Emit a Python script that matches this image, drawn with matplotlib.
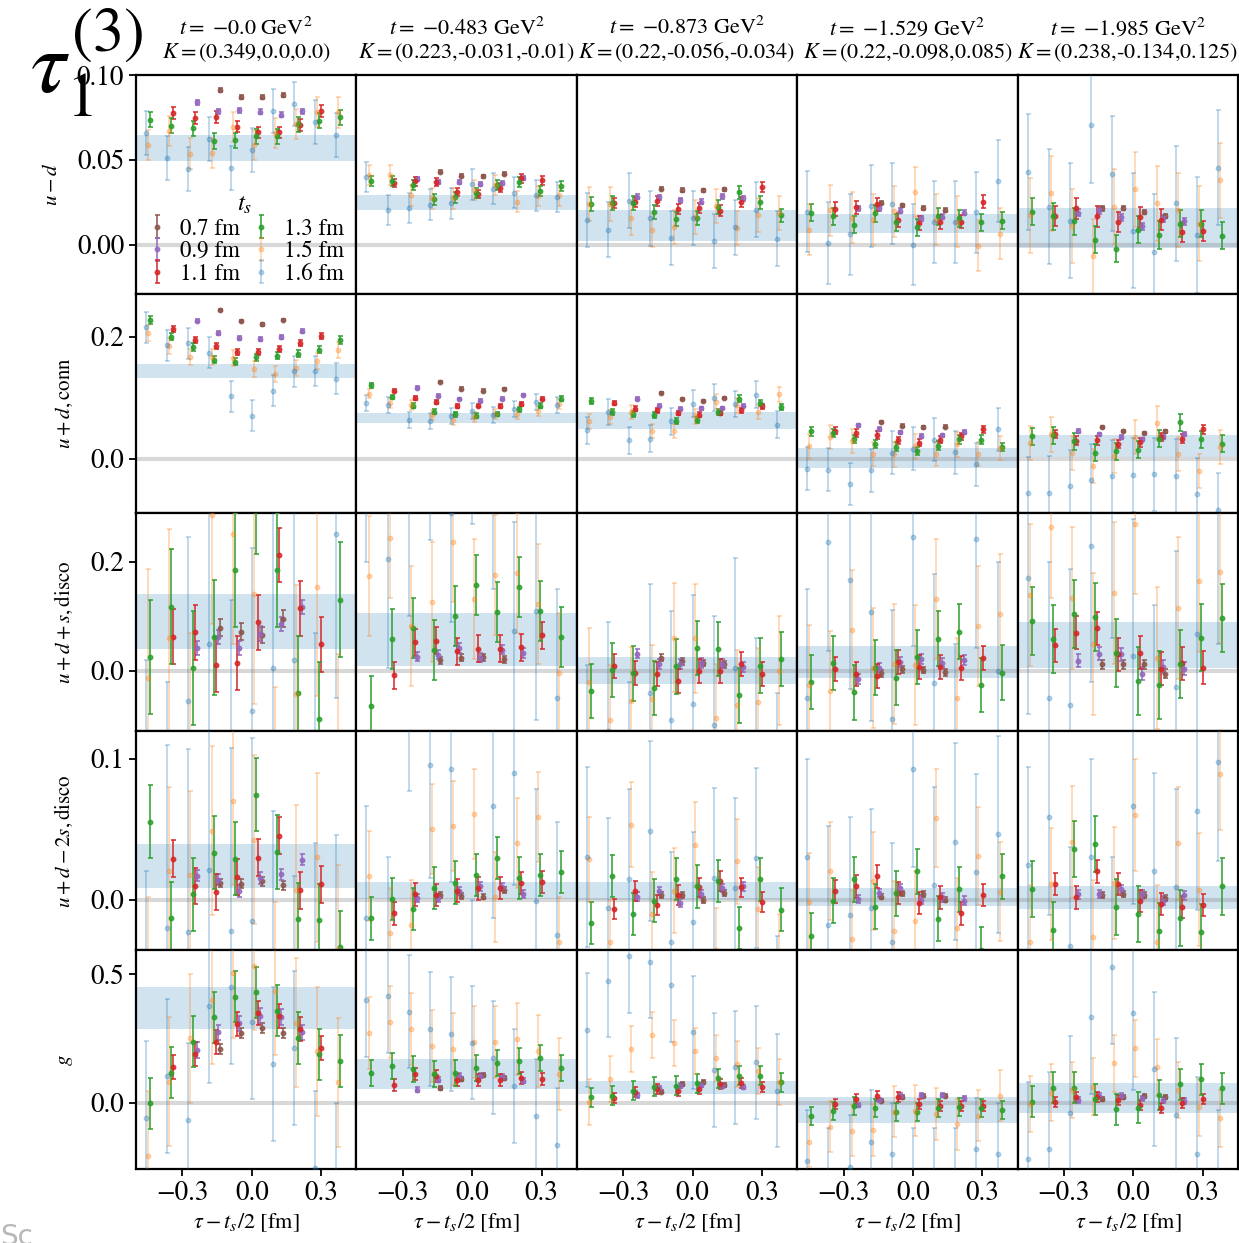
import numpy as np
import matplotlib
matplotlib.use("Agg")
import matplotlib.pyplot as plt

plt.rcParams.update({
    "font.family": "STIXGeneral",
    "mathtext.fontset": "stix",
    "axes.linewidth": 1.6,
})

# ---------------------------------------------------------------- labels
TS_LABELS = ["0.7 fm", "0.9 fm", "1.1 fm", "1.3 fm", "1.5 fm", "1.6 fm"]
COLORS = ["tab:brown", "tab:purple", "tab:red", "tab:green", "tab:orange", "tab:blue"]
ALPHAS = [0.85, 0.85, 0.85, 0.85, 0.3, 0.3]
T_VALUES = ["0.0", "0.483", "0.873", "1.529", "1.985"]
K_VALUES = ["(0.349,0.0,0.0)", "(0.223,-0.031,-0.01)", "(0.22,-0.056,-0.034)",
            "(0.22,-0.098,0.085)", "(0.238,-0.134,0.125)"]
ROW_LABELS = [r"$u-d$", r"$u+d,\mathrm{conn}$", r"$u+d+s,\mathrm{disco}$",
              r"$u+d-2s,\mathrm{disco}$", r"$g$"]
ROW_YTICKS = [[0.0, 0.05, 0.10], [0.0, 0.2], [0.0, 0.2], [0.0, 0.1], [0.0, 0.5]]
ROW_YLIMS = [(-0.029, 0.100), (-0.088, 0.270), (-0.111, 0.290), (-0.036, 0.1195), (-0.258, 0.593)]

A_LAT = 0.0913                      # lattice spacing [fm]
SHIFT = [0.045, 0.036, 0.027, 0.018, 0.009, 0.0]   # small offsets to separate t_s series

# ---------------------------------------------------------------- u - d
ud_mean = [
    [[0.0913, 0.0868, 0.0872, 0.088],
     [0.084, 0.0787, 0.0793, 0.0783, 0.0765, 0.0787],
     [0.0777, 0.0744, 0.075, 0.0696, 0.0661, 0.0661, 0.0706, 0.0789],
     [0.0736, 0.0702, 0.0685, 0.0611, 0.0615, 0.0639, 0.0639, 0.071, 0.073, 0.075],
     [0.0588, 0.067, 0.0537, 0.054, 0.0694, 0.0588, 0.0657, 0.071, 0.0783, 0.078],
     [0.066, 0.0513, 0.0448, 0.0621, 0.0454, 0.0556, 0.0789, 0.0828, 0.0724, 0.0645]],
    [[0.043, 0.0407, 0.0402, 0.0418],
     [0.0387, 0.0367, 0.0371, 0.0355, 0.0365, 0.0395],
     [0.0363, 0.0373, 0.0369, 0.031, 0.0298, 0.0336, 0.0391, 0.0379],
     [0.0373, 0.0373, 0.0353, 0.0266, 0.0278, 0.0302, 0.0351, 0.0369, 0.0318, 0.0345],
     [0.041, 0.041, 0.029, 0.0272, 0.0272, 0.0321, 0.0353, 0.0254, 0.0286, 0.029],
     [0.04, 0.0203, 0.0215, 0.0235, 0.0243, 0.0355, 0.033, 0.0306, 0.029, 0.0282]],
    [[0.033, 0.0322, 0.032, 0.0325],
     [0.0282, 0.0278, 0.0262, 0.0254, 0.0286, 0.0272],
     [0.0245, 0.0253, 0.0256, 0.0211, 0.0215, 0.0201, 0.0253, 0.0339],
     [0.0239, 0.0245, 0.0247, 0.0191, 0.0152, 0.0158, 0.0223, 0.0308, 0.0249, 0.0172],
     [0.0242, 0.024, 0.0158, 0.0085, 0.0105, 0.0164, 0.0227, 0.0097, 0.0172, 0.0188],
     [0.0144, 0.0089, 0.026, 0.0154, 0.004, 0.0158, 0.002, 0.0101, 0.0207, 0.0036]],
    [[0.0247, 0.0231, 0.0215, 0.0205],
     [0.0213, 0.0213, 0.0201, 0.0154, 0.0164, 0.0188],
     [0.0211, 0.022, 0.0237, 0.0144, 0.0129, 0.0133, 0.0135, 0.0253],
     [0.0188, 0.0166, 0.0118, 0.0184, 0.0131, 0.0103, 0.0166, 0.0154, 0.0133, 0.0141],
     [0.0089, 0.0203, 0.0158, 0.0148, 0.0197, 0.031, 0.0148, 0.0135, -0.0006, 0.0065],
     [0.0195, 0.001, 0.006, 0.0227, 0.0241, -0.0001, 0.0133, 0.0133, 0.0191, 0.0374]],
    [[0.0213, 0.0215, 0.0191, 0.0168],
     [0.0188, 0.0203, 0.0162, 0.0109, 0.0154, 0.0138],
     [0.0168, 0.0213, 0.0166, 0.0133, 0.0162, 0.0148, 0.0073, 0.0079],
     [0.0194, 0.0168, 0.0138, 0.003, -0.0025, 0.0089, 0.0057, 0.0124, 0.0124, 0.0053],
     [0.0172, 0.0302, 0.0109, -0.0069, 0.0223, 0.0325, 0.0243, 0.0203, 0.0124, 0.0379],
     [0.0428, 0.0223, 0.0142, 0.0704, 0.0418, 0.0083, -0.0043, 0.0243, 0.0057, 0.0454]],
]
ud_err = [
    [0.0012, 0.0015, 0.0035, 0.0045, 0.009, 0.013],
    [0.0008, 0.0012, 0.0025, 0.003, 0.006, 0.009],
    [0.001, 0.0015, 0.003, 0.004, 0.01, 0.016],
    [0.001, 0.0015, 0.004, 0.005, 0.015, 0.024],
    [0.0012, 0.002, 0.006, 0.008, 0.022, 0.034],
]
ud_band = [(0.0493, 0.0647), (0.0203, 0.029), (0.002, 0.0203), (0.007, 0.0178), (-0.002, 0.0217)]

# ---------------------------------------------------------------- u + d, conn
conn_mean = [
    [[0.2437, 0.2256, 0.2201, 0.2272],
     [0.2261, 0.2064, 0.1977, 0.196, 0.1993, 0.2087],
     [0.2129, 0.1944, 0.185, 0.1742, 0.1747, 0.1791, 0.19, 0.2005],
     [0.2272, 0.1998, 0.1829, 0.162, 0.1587, 0.1659, 0.1686, 0.1719, 0.1784, 0.1944],
     [0.2054, 0.1845, 0.1659, 0.1659, 0.1643, 0.1467, 0.139, 0.1484, 0.1599, 0.178],
     [0.2152, 0.1857, 0.1889, 0.1735, 0.1024, 0.0706, 0.1117, 0.1429, 0.1434, 0.1314]],
    [[0.1259, 0.115, 0.1117, 0.1144],
     [0.1166, 0.1035, 0.0979, 0.0953, 0.0986, 0.104],
     [0.1117, 0.0996, 0.0925, 0.0859, 0.0871, 0.0859, 0.0897, 0.0986],
     [0.1204, 0.1012, 0.0871, 0.0772, 0.0728, 0.0706, 0.0733, 0.081, 0.0871, 0.0986],
     [0.1068, 0.0914, 0.0876, 0.0716, 0.0641, 0.0683, 0.0739, 0.0739, 0.0782, 0.0897],
     [0.0914, 0.0876, 0.0641, 0.0624, 0.07, 0.0782, 0.0711, 0.0821, 0.093, 0.0887]],
    [[0.1078, 0.0979, 0.0946, 0.0991],
     [0.0986, 0.0871, 0.0822, 0.0826, 0.0831, 0.0871],
     [0.0914, 0.0822, 0.0794, 0.0749, 0.0723, 0.0749, 0.0794, 0.0859],
     [0.0953, 0.0761, 0.0739, 0.0711, 0.0618, 0.0641, 0.0766, 0.0986, 0.0909, 0.0848],
     [0.0613, 0.0683, 0.0766, 0.0453, 0.0453, 0.0695, 0.0936, 0.0876, 0.0766, 0.1056],
     [0.0465, 0.0766, 0.0301, 0.0329, 0.0613, 0.0904, 0.1002, 0.0897, 0.1052, 0.0559]],
    [[0.0601, 0.0542, 0.0514, 0.0526],
     [0.0547, 0.0486, 0.0432, 0.0371, 0.0383, 0.0437],
     [0.046, 0.042, 0.0388, 0.0301, 0.0263, 0.0312, 0.0366, 0.0481],
     [0.0449, 0.042, 0.0322, 0.024, 0.0197, 0.0131, 0.0214, 0.0317, 0.0312, 0.0191],
     [0.0202, 0.0355, 0.0289, 0.0082, 0.0071, 0.0202, 0.0082, 0.0235, 0.0082, 0.0181],
     [-0.0164, -0.0176, -0.0411, -0.0187, 0.0099, 0.0164, 0.0312, 0.0104, -0.0089, 0.0486]],
    [[0.052, 0.0453, 0.042, 0.0449],
     [0.046, 0.0399, 0.0355, 0.0317, 0.0355, 0.0411],
     [0.0404, 0.0296, 0.0301, 0.0246, 0.0268, 0.0355, 0.0329, 0.0481],
     [0.0371, 0.0388, 0.0289, 0.0099, 0.012, 0.0148, 0.0329, 0.0601, 0.0317, 0.0246],
     [0.0257, 0.0399, 0.0093, -0.0122, 0.0049, 0.0355, 0.0585, 0.0082, -0.0197, 0.0191],
     [-0.0565, -0.0559, -0.045, -0.0352, -0.0286, -0.0263, -0.0253, -0.0279, -0.0582, -0.0833]],
]
conn_err = [
    [0.002, 0.003, 0.005, 0.006, 0.013, 0.025],
    [0.002, 0.002, 0.003, 0.004, 0.008, 0.013],
    [0.002, 0.002, 0.004, 0.005, 0.012, 0.022],
    [0.002, 0.003, 0.006, 0.007, 0.02, 0.035],
    [0.002, 0.003, 0.007, 0.014, 0.028, 0.06],
]
conn_band = [(0.1325, 0.155), (0.0585, 0.0744), (0.0486, 0.076), (-0.0148, 0.0181), (0.0027, 0.0383)]

# ---------------------------------------------------------------- u + d + s, disco
uds_mean = [
    [[0.0792, 0.0719, 0.0659, 0.0957],
     [0.0414, 0.0622, 0.0421, 0.0683, 0.086, 0.1171],
     [0.0628, 0.0707, 0.0115, 0.0146, 0.0889, 0.2123, 0.1146, 0.0487],
     [0.0256, 0.1177, 0.0055, 0.0615, 0.1848, 0.32, 0.1848, -0.0415, -0.0879, 0.1305],
     [-0.014, 0.06, -0.13, 0.285, 0.25, 0.14, -0.23, -0.043, 0.154, -0.17],
     [-0.28, -0.32, -0.055, 0.05, -0.17, -0.0745, 0.0048, 0.0207, -0.23, 0.25]],
    [[0.0194, 0.0243, 0.0249, 0.0212],
     [0.0262, 0.0298, 0.0426, 0.0243, 0.039, 0.0322],
     [-0.008, 0.0523, 0.0555, 0.0359, 0.0403, 0.0408, 0.0432, 0.0651],
     [-0.0653, 0.0578, 0.078, 0.0377, 0.0999, 0.1574, 0.108, 0.1537, 0.1103, 0.0622],
     [0.1738, 0.2434, 0.0823, 0.1268, 0.2354, 0.131, 0.175, 0.1799, 0.1219, -0.0031],
     [0.4, 0.205, 0.3, 0.44, 0.29, 0.47, 0.35, 0.0732, 0.1098, -0.0507]],
    [[0.0243, 0.0176, 0.0146, 0.0121],
     [0.0317, 0.0121, 0.0128, 0.0146, 0.0134, 0.0073],
     [0.0092, -0.0031, -0.0055, -0.019, 0.0, 0.0, 0.0134, -0.0062],
     [-0.0373, 0.0018, -0.0044, -0.0311, 0.0084, 0.0421, 0.0403, -0.0452, 0.0097, 0.022],
     [-0.0209, -0.0897, -0.0556, -0.052, 0.0609, 0.0597, -0.0867, -0.0617, -0.058, 0.0],
     [-0.19, -0.11, -0.22, -0.0403, -0.09, -0.061, -0.1, 0.006, -0.14, -0.24]],
    [[-0.0044, 0.0029, 0.0018, -0.0026],
     [-0.0154, 0.006, 0.0165, 0.0212, 0.0152, 0.0201],
     [0.0029, -0.0062, -0.0092, 0.017, 0.0066, 0.0073, 0.006, 0.0243],
     [-0.0201, 0.0146, -0.0397, 0.006, -0.0123, 0.0256, 0.0591, 0.0719, -0.0256, -0.0031],
     [-0.0263, -0.0366, 0.0756, 0.006, 0.0121, 0.011, 0.1323, -0.05, 0.0823, 0.1036],
     [-0.05, 0.236, 0.1665, 0.1072, -0.0878, 0.2458, -0.0227, -0.15, 0.2421, 0.0]],
    [[0.0121, 0.0121, 0.0121, -0.005],
     [0.0183, 0.0317, 0.0304, -0.005, 0.0073, 0.0042],
     [0.0469, 0.0701, 0.078, 0.0304, 0.0335, 0.0037, 0.0139, 0.0055],
     [0.0915, 0.0578, 0.1036, 0.0988, 0.0322, -0.0183, -0.0263, 0.0121, 0.0609, 0.0963],
     [0.139, 0.264, 0.134, 0.0487, 0.142, 0.27, 0.0243, 0.1158, 0.1647, 0.1817],
     [0.17, -0.0507, -0.063, 0.2293, 0.31, 0.0274, -0.13, -0.03, 0.067, 0.3]],
]
uds_err = [
    [0.015, 0.013, 0.05, 0.105, 0.2, 0.3],
    [0.006, 0.009, 0.025, 0.055, 0.11, 0.2],
    [0.006, 0.009, 0.022, 0.05, 0.1, 0.2],
    [0.006, 0.009, 0.022, 0.05, 0.11, 0.2],
    [0.008, 0.012, 0.03, 0.062, 0.13, 0.25],
]
uds_band = [(0.0396, 0.1415), (0.0085, 0.1067), (-0.0245, 0.0262), (-0.0123, 0.0463), (0.006, 0.0902)]

# ---------------------------------------------------------------- u + d - 2s, disco
ud2s_mean = [
    [[0.0116, 0.0114, 0.0129, 0.01],
     [0.0169, 0.014, 0.0061, 0.0154, 0.0179, 0.0283],
     [0.029, 0.0095, 0.0054, 0.0161, 0.0297, 0.0454, 0.0066, 0.0107],
     [0.0554, -0.0134, 0.0036, 0.0333, 0.029, 0.0745, 0.0338, -0.0141, -0.0146, -0.034],
     [-0.058, 0.02, 0.0171, 0.0488, 0.07, 0.0426, -0.062, 0.0071, 0.03, -0.0353],
     [-0.11, -0.0203, -0.023, 0.0211, -0.0226, -0.015, -0.067, -0.113, -0.09, -0.084]],
    [[0.0033, 0.0026, 0.0021, 0.0066],
     [0.0011, 0.0011, 0.0059, 0.0093, 0.0088, 0.004],
     [-0.0098, 0.0036, 0.0031, 0.0064, 0.0079, 0.0081, 0.0119, 0.0124],
     [-0.0134, 0.0004, -0.0069, 0.0083, 0.0121, 0.0176, 0.0297, 0.0154, 0.0176, 0.0197],
     [0.0164, -0.0238, -0.0184, 0.0504, 0.0523, 0.0609, 0.0016, 0.04, 0.0585, -0.03],
     [-0.0134, -0.05, 0.157, 0.0954, 0.0925, -0.08, 0.0668, 0.0902, -0.0012, -0.025]],
    [[0.0033, 0.0033, -0.0005, 0.0047],
     [0.0021, 0.0059, -0.0024, 0.004, 0.0081, 0.0093],
     [-0.0067, 0.0061, -0.0039, 0.0033, 0.0086, 0.0133, 0.0086, -0.0017],
     [-0.0167, 0.0166, -0.0103, -0.0007, 0.0145, 0.0093, 0.0131, -0.0205, 0.0143, -0.0071],
     [0.0286, -0.03, 0.0533, -0.0103, 0.0064, 0.039, -0.036, 0.0271, -0.0067, -0.04],
     [0.0302, -0.006, 0.0147, 0.049, -0.03, -0.0162, 0.0152, 0.0083, 0.0295, -0.09]],
    [[0.0021, 0.0043, 0.0038, 0.0],
     [0.0004, 0.0047, 0.0081, 0.0, 0.0016, -0.0007],
     [0.0059, 0.0093, 0.0164, 0.0047, -0.0026, 0.0016, -0.0098, 0.0033],
     [-0.0257, -0.0007, 0.0143, -0.005, 0.0045, 0.02, -0.0138, 0.0074, -0.0357, 0.0164],
     [-0.0019, 0.0202, -0.0281, 0.0131, -0.0221, -0.015, 0.058, -0.02, 0.0309, 0.0057],
     [0.03, -0.018, -0.0112, -0.006, -0.03, 0.093, 0.01, 0.041, 0.0195, 0.0464]],
    [[0.0033, 0.004, 0.0033, 0.0009],
     [0.0036, 0.004, 0.0076, 0.0036, -0.0007, 0.0029],
     [0.0111, 0.0016, 0.02, 0.0111, -0.001, -0.0031, -0.0053, -0.0039],
     [0.0076, -0.0217, 0.0357, 0.0395, -0.0055, -0.0105, -0.0226, -0.0131, -0.0233, 0.0093],
     [-0.03, 0.0111, 0.0409, -0.0264, 0.0119, 0.06, -0.03, 0.04, 0.0071, 0.0895],
     [0.0243, 0.0588, -0.0328, 0.03, -0.04, 0.0668, 0.02, 0.0088, 0.0628, 0.0975]],
]
ud2s_err = [
    [0.003, 0.004, 0.013, 0.026, 0.06, 0.13],
    [0.002, 0.003, 0.008, 0.015, 0.032, 0.08],
    [0.002, 0.003, 0.007, 0.015, 0.03, 0.064],
    [0.002, 0.003, 0.008, 0.016, 0.035, 0.07],
    [0.002, 0.003, 0.008, 0.02, 0.04, 0.07],
]
ud2s_band = [(0.0083, 0.0397), (0.0004, 0.0124), (-0.0003, 0.0124), (-0.0043, 0.0081), (-0.0067, 0.0095)]

# ---------------------------------------------------------------- g
g_mean = [
    [[0.2075, 0.272, 0.2902, 0.272],
     [0.2047, 0.2735, 0.3085, 0.3368, 0.333, 0.2735],
     [0.1399, 0.1892, 0.2347, 0.3057, 0.3497, 0.3368, 0.2852, 0.2113],
     [-0.0023, 0.1166, 0.237, 0.3318, 0.4118, 0.4289, 0.3574, 0.2514, 0.188, 0.162],
     [-0.206, 0.0816, 0.25, 0.4001, 0.5027, 0.5322, 0.4351, 0.3108, 0.2, 0.0793],
     [-0.06, 0.105, -0.0672, 0.3757, 0.45, 0.315, 0.15, 0.2137, -0.255, -0.3]],
    [[0.0559, 0.0921, 0.1064, 0.0971],
     [0.0505, 0.0894, 0.1049, 0.1049, 0.0998, 0.0855],
     [0.0699, 0.1103, 0.1049, 0.0882, 0.0882, 0.087, 0.0971, 0.0909],
     [0.1142, 0.1437, 0.1309, 0.1103, 0.1142, 0.136, 0.1554, 0.162, 0.1725, 0.136],
     [0.272, 0.3123, 0.2852, 0.2214, 0.2075, 0.2347, 0.2358, 0.2463, 0.2009, 0.1103],
     [0.399, 0.4145, 0.3535, 0.2863, 0.2669, 0.2331, 0.1748, 0.0649, -0.0505, -0.1643]],
    [[0.0427, 0.0727, 0.0804, 0.0688],
     [0.0287, 0.0559, 0.066, 0.0688, 0.0649, 0.061],
     [0.0171, 0.0427, 0.052, 0.0455, 0.0532, 0.0727, 0.0777, 0.0622],
     [0.021, 0.026, 0.0466, 0.0622, 0.0649, 0.0754, 0.0948, 0.1049, 0.1049, 0.0792],
     [0.0039, 0.0909, 0.2075, 0.263, 0.2308, 0.2009, 0.1725, 0.15, 0.1232, 0.0816],
     [0.2824, 0.474, 0.57, 0.5478, 0.4573, 0.2735, 0.127, 0.1375, 0.157, 0.0466]],
    [[0.0078, 0.021, 0.0272, 0.0272],
     [-0.0089, 0.0105, 0.0272, 0.03, 0.03, 0.0171],
     [-0.0062, 0.0144, 0.026, 0.021, -0.005, -0.0128, -0.0128, -0.0128],
     [-0.0505, -0.0311, -0.0117, -0.0194, -0.0373, -0.035, -0.0218, -0.0179, -0.0218, -0.0284],
     [-0.1515, -0.0932, -0.1088, -0.1061, -0.035, -0.0311, -0.0439, -0.0839, -0.05, 0.0272],
     [-0.2277, -0.3, -0.2486, -0.1515, -0.2005, -0.3, -0.3, -0.3, -0.18, -0.2]],
    [[0.0132, 0.0233, 0.026, 0.021],
     [0.0105, 0.0272, 0.0272, 0.0171, 0.0105, 0.0066],
     [0.0016, 0.0233, 0.021, 0.0105, -0.0089, -0.0194, -0.0023, 0.0144],
     [0.0039, 0.0583, 0.0583, 0.0132, -0.0256, -0.0194, 0.03, 0.0715, 0.0909, 0.0559],
     [-0.005, 0.0388, 0.05, 0.0622, 0.1531, 0.2113, 0.1375, 0.05, -0.0179, -0.0606],
     [-0.22, -0.18, -0.0412, 0.3318, 0.5284, 0.3497, 0.1298, -0.0478, -0.2, -0.33]],
]
g_err = [
    [0.02, 0.03, 0.047, 0.1, 0.25, 0.3],
    [0.008, 0.01, 0.024, 0.05, 0.14, 0.22],
    [0.007, 0.009, 0.02, 0.037, 0.09, 0.22],
    [0.007, 0.009, 0.02, 0.035, 0.1, 0.2],
    [0.008, 0.01, 0.02, 0.06, 0.11, 0.3],
]
g_band = [(0.2852, 0.4495), (0.0532, 0.1698), (0.035, 0.0843), (-0.08, 0.021), (-0.0412, 0.0777)]

ROWS = [
    (ud_mean, ud_err, ud_band),
    (conn_mean, conn_err, conn_band),
    (uds_mean, uds_err, uds_band),
    (ud2s_mean, ud2s_err, ud2s_band),
    (g_mean, g_err, g_band),
]

# ---------------------------------------------------------------- figure
fig, axes = plt.subplots(5, 5, figsize=(12.39, 12.43), dpi=100, sharex=True, sharey="row")
fig.subplots_adjust(left=136 / 1239, right=1238 / 1239, top=1 - 75 / 1243,
                    bottom=1 - 1169 / 1243, wspace=0, hspace=0)

for r, (means, errs, bands) in enumerate(ROWS):
    for c in range(5):
        ax = axes[r, c]
        lo, hi = bands[c]
        ax.axhspan(lo, hi, color="tab:blue", alpha=0.2, lw=0, zorder=1)
        ax.axhline(0.0, color="gray", alpha=0.3, lw=3, zorder=1)
        for s in range(6):
            y = np.asarray(means[c][s])
            n = len(y)
            x = (np.arange(n) - n // 2) * A_LAT + SHIFT[s]
            ax.errorbar(x, y, yerr=errs[c][s], fmt="o", ms=3.2, color=COLORS[s],
                        alpha=ALPHAS[s], capsize=1.8, elinewidth=1.3, capthick=1.3,
                        label=TS_LABELS[s], zorder=3)
        ax.set_xlim(-0.50, 0.452)
        ax.set_ylim(*ROW_YLIMS[r])
        ax.set_xticks([-0.3, 0.0, 0.3])
        ax.set_yticks(ROW_YTICKS[r])
        ax.tick_params(labelsize=19.5, length=5, width=1.3, direction="out",
                       left=(c == 0), bottom=(r == 4))
        if r == 0:
            ax.set_title(rf"$t=\ {{-}}{T_VALUES[c]}$ GeV$^2$" + "\n" + r"$K=$" + K_VALUES[c],
                         fontsize=16, pad=12, linespacing=1.1)
        if r == 4:
            ax.set_xlabel(r"$\tau-t_s/2$ [fm]", fontsize=16, labelpad=4)
        if c == 0:
            ax.set_ylabel(ROW_LABELS[r], fontsize=15, labelpad=11)

axes[0, 0].legend(title=r"$t_s$", ncol=2, loc="lower left", frameon=False, fontsize=16.5,
                  title_fontsize=18, handlelength=1.0, handletextpad=0.5,
                  columnspacing=0.45, labelspacing=0.05, borderaxespad=0.2,
                  borderpad=0.2)

fig.text(0.024, 0.995, r"$\tau_1^{(3)}$", fontsize=64, va="top", ha="left")
fig.text(0.0, 0.016, "Sc", fontsize=20, color="#b8b8b8", family="DejaVu Sans",
         va="top", ha="left")

fig.savefig("out.png", dpi=100)
